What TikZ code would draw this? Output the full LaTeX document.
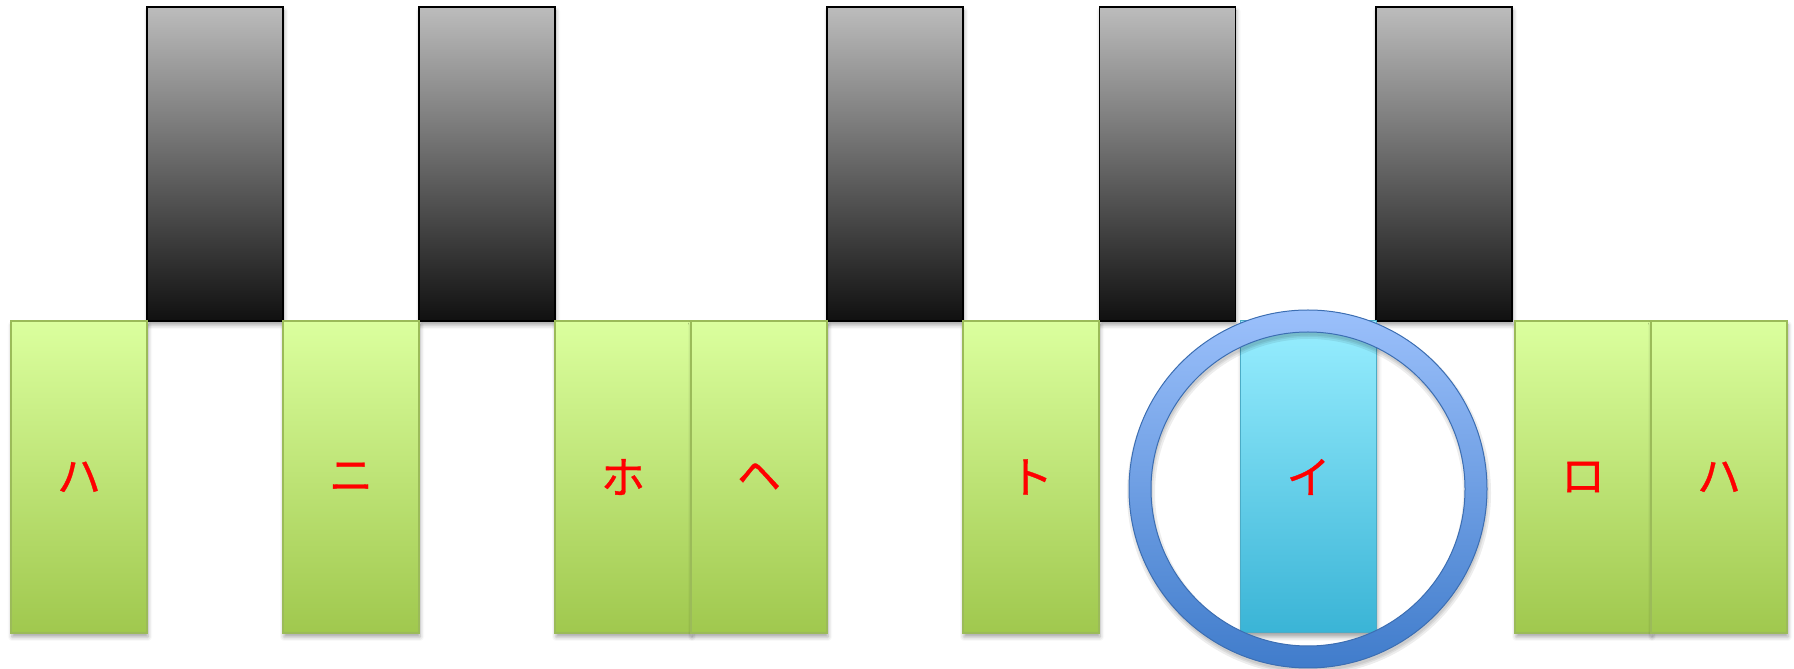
\documentclass[tikz,border=0pt]{standalone}
\usepackage{fontspec}
\newfontfamily\jpfont[FakeBold=0.8]{Noto Sans CJK JP}
\usetikzlibrary{shadows.blur}
\definecolor{gtop}{RGB}{219,255,158}
\definecolor{gmid}{RGB}{196,230,124}
\definecolor{gbot}{RGB}{160,200,78}
\definecolor{gline}{RGB}{155,187,89}
\definecolor{btop}{RGB}{188,188,188}
\definecolor{bmid}{RGB}{128,128,128}
\definecolor{bbot}{RGB}{16,16,16}
\definecolor{ctop}{RGB}{152,238,255}
\definecolor{cbot}{RGB}{58,180,214}
\definecolor{cline}{RGB}{75,172,198}
\definecolor{rtop}{RGB}{155,192,251}
\definecolor{rbot}{RGB}{64,124,203}
\definecolor{rline}{RGB}{60,110,178}
\begin{document}
\begin{tikzpicture}[x=1pt,y=1pt,
  key/.style={minimum width=136pt, inner sep=0pt, outer sep=0pt},
  lbl/.style={font=\jpfont\fontsize{44}{44}\selectfont, text=red},
  keyshadow/.style={blur shadow={shadow xshift=1pt, shadow yshift=-4pt, shadow blur radius=4pt, shadow opacity=35}},
  greenkey/.style={key, lbl, keyshadow, minimum height=312pt, draw=gline, line width=1.2pt,
    top color=gtop, middle color=gmid, bottom color=gbot},
  cyankey/.style={key, lbl, keyshadow, minimum height=312pt, draw=cline, line width=1pt,
    top color=ctop, bottom color=cbot},
  blackkey/.style={key, keyshadow, minimum height=314pt, draw=black, line width=1.6pt,
    top color=btop, middle color=bmid, bottom color=bbot},
  ring/.style={even odd rule, draw=rline, line width=1pt, top color=rtop, bottom color=rbot},
  ringshadow/.style={even odd rule, fill=black, opacity=0.07}
]
\useasboundingbox (0,0) rectangle (1794,669);
% black keys
\node[blackkey] (b1) at (215,505) {};
\node[blackkey] (b2) at (487,505) {};
\node[blackkey] (b3) at (895,505) {};
\node[blackkey] (b4) at (1167.5,505) {};
\node[blackkey] (b5) at (1444,505) {};
% white (green) keys
\node[greenkey] (w1) at (79,192) {ハ};
\node[greenkey] (w2) at (351,192) {ニ};
\node[greenkey] (w3) at (623,192) {ホ};
\node[greenkey] (w4) at (759,192) {ヘ};
\node[greenkey] (w5) at (1031,192) {ト};
\node[cyankey] (w6) at (1308.5,192) {イ};
\node[greenkey] (w7) at (1583,192) {ロ};
\node[greenkey] (w8) at (1719,192) {ハ};
% ring with its soft shadow
\coordinate (rc) at (1308,180);
\coordinate (rs) at (1309,176);
\path[ringshadow] (rs) circle (182) (rs) circle (154);
\path[ringshadow] (rs) circle (180) (rs) circle (156);
\path[ringshadow] (rs) circle (178.5) (rs) circle (157.5);
\path[ring] (rc) circle (179) (rc) circle (157);
\end{tikzpicture}
\end{document}
